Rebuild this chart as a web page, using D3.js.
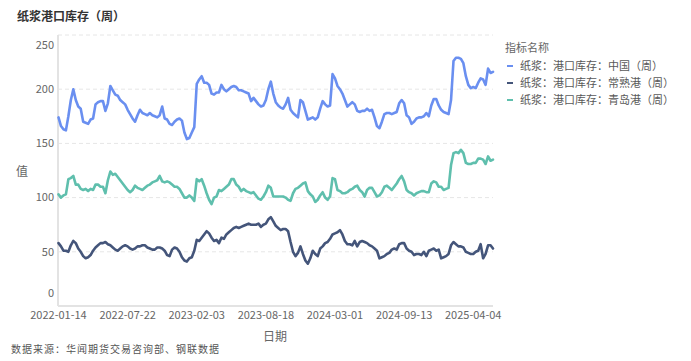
<!DOCTYPE html>
<html>
<head>
<meta charset="utf-8">
<script src="https://cdn.jsdelivr.net/npm/d3@7"></script>
<style>
  body { margin: 0; background: #fff; }
  #chart { width: 691px; height: 361px; }
</style>
</head>
<body>
<div id="chart"></div>
<script>
// tick labels every 28 weeks along the category axis
const tickLabels = ['2022-01-14', '2022-07-22', '2023-02-03', '2023-08-18', '2024-03-01', '2024-09-13', '2025-04-04'];
const tickStep = 28;

const seriesNames = ['纸浆：港口库存：中国（周）', '纸浆：港口库存：常熟港（周）', '纸浆：港口库存：青岛港（周）'];

const chinaValues = [
  174, 166, 163, 162, 175, 190, 200, 190, 184, 182, 170, 169, 168, 172, 173, 186, 188, 189, 189, 180,
  187, 203, 199, 195, 194, 190, 188, 186, 181, 177, 173, 170, 176, 181, 178, 177, 176, 178, 176, 175,
  174, 176, 184, 173, 172, 168, 167, 170, 172, 173, 171, 160, 154, 155, 160, 165, 205, 209, 212, 206,
  206, 204, 196, 195, 197, 197, 204, 200, 198, 200, 202, 203, 202, 199, 199, 198, 197, 196, 189, 192,
  189, 186, 184, 185, 190, 200, 207, 196, 188, 185, 183, 182, 186, 192, 181, 178, 176, 174, 190, 188,
  180, 172, 173, 174, 172, 174, 182, 189, 186, 184, 185, 214, 210, 203, 200, 196, 190, 184, 186, 188,
  186, 180, 179, 180, 180, 182, 180, 181, 174, 166, 164, 170, 177, 178, 178, 177, 178, 179, 187, 190,
  187, 176, 174, 168, 170, 173, 174, 174, 175, 178, 175, 185, 191, 191, 185, 181, 179, 178, 177, 190,
  226, 229, 229, 228, 224, 212, 204, 201, 202, 201, 206, 210, 209, 204, 219, 215, 216
];

const changshuValues = [
  58, 55, 51, 51, 50, 56, 60, 58, 53, 50, 46, 44, 45, 47, 51, 54, 56, 58, 58, 59,
  57, 56, 54, 52, 51, 53, 55, 56, 55, 53, 52, 53, 55, 55, 56, 56, 54, 53, 52, 52,
  54, 54, 53, 51, 47, 46, 52, 54, 53, 50, 45, 42, 41, 44, 45, 51, 61, 60, 63, 66,
  69, 67, 63, 60, 61, 58, 63, 62, 66, 68, 70, 72, 73, 72, 73, 74, 75, 76, 75, 75,
  75, 76, 73, 75, 76, 80, 82, 78, 74, 72, 70, 71, 71, 69, 59, 50, 46, 49, 55, 48,
  42, 39, 44, 51, 48, 46, 53, 55, 58, 59, 62, 66, 67, 68, 70, 66, 60, 57, 57, 56,
  60, 55, 59, 60, 59, 58, 56, 55, 53, 51, 44, 45, 46, 48, 49, 52, 53, 52, 57, 58,
  58, 53, 51, 50, 47, 48, 48, 47, 50, 46, 51, 52, 53, 51, 52, 44, 45, 46, 48, 56,
  59, 57, 55, 55, 54, 50, 49, 48, 48, 50, 51, 57, 44, 48, 56, 56, 53
];

const qingdaoValues = [
  103, 100, 102, 103, 117, 118, 120, 112, 112, 108, 107, 108, 106, 108, 107, 112, 112, 110, 110, 104,
  116, 124, 121, 122, 119, 116, 113, 110, 107, 105, 107, 111, 109, 108, 107, 109, 111, 112, 114, 115,
  116, 120, 115, 114, 115, 114, 112, 110, 110, 108, 104, 100, 100, 102, 100, 97, 117, 115, 117, 111,
  104, 98, 94, 100, 101, 107, 106, 108, 110, 112, 117, 117, 112, 110, 106, 108, 106, 105, 104, 105,
  102, 99, 98, 101, 105, 111, 109, 101, 101, 101, 101, 101, 100, 98, 97, 104, 108, 109, 111, 113,
  114, 106, 103, 101, 96, 98, 102, 105, 100, 98, 101, 118, 117, 107, 106, 104, 104, 105, 107, 108,
  110, 111, 107, 105, 101, 107, 109, 109, 105, 101, 102, 105, 110, 111, 109, 107, 110, 113, 117, 120,
  115, 107, 105, 104, 102, 104, 105, 106, 106, 105, 105, 113, 115, 114, 110, 110, 107, 108, 109, 130,
  141, 142, 141, 144, 141, 132, 131, 131, 132, 132, 136, 136, 135, 131, 138, 134, 135
];

const yTicks = [0, 50, 100, 150, 200, 250];
const colors = ['#6a8ff0', '#44557a', '#5fbfad'];

const width = 691;
const height = 361;
const margin = { top: 35, right: 198, bottom: 55, left: 58 };

const svg = d3.select('#chart')
  .append('svg')
  .attr('width', width)
  .attr('height', height)
  .style('font-family', '"Noto Sans CJK SC", "Noto Sans", sans-serif');

const x = d3.scalePoint()
  .domain(d3.range(chinaValues.length))
  .range([margin.left + 0.5, width - margin.right]);

const y = d3.scaleLinear()
  .domain([0, 250])
  .range([height - margin.bottom, margin.top]);

// title
svg.append('text')
  .attr('x', 17)
  .attr('y', 21)
  .attr('font-size', 12)
  .attr('font-weight', 'bold')
  .attr('fill', '#333')
  .text('纸浆港口库存（周）');

// grid
svg.append('g')
  .selectAll('line')
  .data(yTicks.filter(d => d > 0))
  .enter().append('line')
  .attr('x1', margin.left)
  .attr('x2', width - margin.right)
  .attr('y1', d => y(d))
  .attr('y2', d => y(d))
  .attr('stroke', '#e6e6e6')
  .attr('stroke-dasharray', '4,3');

// axis lines
svg.append('line')
  .attr('x1', margin.left).attr('x2', margin.left)
  .attr('y1', margin.top).attr('y2', height - margin.bottom)
  .attr('stroke', '#e3e3e3').attr('stroke-width', 2);

svg.append('line')
  .attr('x1', margin.left).attr('x2', width - margin.right)
  .attr('y1', height - margin.bottom).attr('y2', height - margin.bottom)
  .attr('stroke', '#e3e3e3').attr('stroke-width', 2);

// y labels (edge labels pulled inward)
svg.append('g')
  .selectAll('text')
  .data(yTicks)
  .enter().append('text')
  .attr('x', 54)
  .attr('y', d => y(d) + (d === 0 ? -13 : d === 250 ? 10 : 0))
  .attr('dy', '0.35em')
  .attr('text-anchor', 'end')
  .attr('font-size', 11)
  .attr('fill', '#666')
  .text(d => d);

// x labels
const xTickIdx = tickLabels.map((d, i) => i * tickStep);
svg.append('g')
  .selectAll('text')
  .data(xTickIdx)
  .enter().append('text')
  .attr('x', d => x(d))
  .attr('y', 319)
  .attr('text-anchor', 'middle')
  .attr('font-size', 11)
  .attr('fill', '#666')
  .text((d, i) => tickLabels[i]);

// axis titles
svg.append('text')
  .attr('x', 22).attr('y', 176)
  .attr('text-anchor', 'middle')
  .attr('font-size', 12)
  .attr('fill', '#666')
  .text('值');

svg.append('text')
  .attr('x', 275).attr('y', 341)
  .attr('text-anchor', 'middle')
  .attr('font-size', 12)
  .attr('fill', '#666')
  .text('日期');

// source note
svg.append('text')
  .attr('x', 11).attr('y', 353)
  .attr('font-size', 10)
  .attr('letter-spacing', 1)
  .attr('fill', '#555')
  .text('数据来源：华闻期货交易咨询部、钢联数据');

// lines
const line = d3.line()
  .x((d, i) => x(i))
  .y(d => y(d));

const series = [chinaValues, changshuValues, qingdaoValues];

svg.append('g')
  .selectAll('path')
  .data(series)
  .enter().append('path')
  .attr('d', d => line(d))
  .attr('fill', 'none')
  .attr('stroke', (d, i) => colors[i])
  .attr('stroke-width', 2.6)
  .attr('stroke-linejoin', 'round')
  .attr('stroke-linecap', 'round');

// legend
const legend = svg.append('g')
  .attr('transform', 'translate(505, 0)');

legend.append('text')
  .attr('x', 0).attr('y', 52)
  .attr('font-size', 11)
  .attr('fill', '#666')
  .text('指标名称');

legend.selectAll('line')
  .data(seriesNames)
  .enter().append('line')
  .attr('x1', 2).attr('x2', 8)
  .attr('y1', (d, i) => 66 + i * 17)
  .attr('y2', (d, i) => 66 + i * 17)
  .attr('stroke', (d, i) => colors[i])
  .attr('stroke-width', 2);

legend.selectAll('text.item')
  .data(seriesNames)
  .enter().append('text')
  .attr('class', 'item')
  .attr('x', 15)
  .attr('y', (d, i) => 66 + i * 17)
  .attr('dy', '0.35em')
  .attr('font-size', 11)
  .attr('fill', '#595959')
  .text(d => d);
</script>
</body>
</html>
